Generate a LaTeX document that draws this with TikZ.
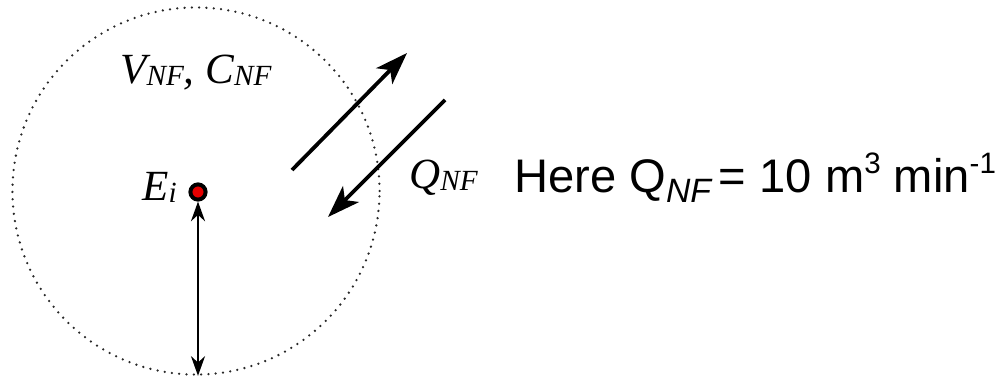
\documentclass[tikz,border=0pt]{standalone}
\usepackage{fontspec}
\setmainfont{Liberation Serif}
\newfontfamily\arialfont{Liberation Sans}
\usetikzlibrary{positioning,arrows.meta}
\definecolor{dotred}{RGB}{230,0,0}
\definecolor{rimgrey}{RGB}{40,40,40}
\newcommand{\serifsub}[1]{\raisebox{-1.5pt}{\fontsize{20.8}{22}\selectfont #1}}
\newcommand{\sanssub}[1]{\raisebox{-7.8pt}{\fontsize{24}{25}\selectfont\itshape #1}}
\newcommand{\sanssup}[1]{\raisebox{13pt}{\fontsize{21}{22}\selectfont #1}}

\begin{document}
\begin{tikzpicture}[x=0.025cm,y=-0.025cm,
  nearfield/.style={circle,draw=rimgrey,line width=1.8pt,dash pattern=on 0pt off 5.2pt,line cap=round,minimum size=9.175cm,inner sep=0pt},
  source/.style={circle,draw=black,fill=dotred,line width=2.8pt,minimum size=0.38cm,inner sep=0pt},
  flow/.style={line width=2.7pt,-{Stealth[length=23pt,width=16pt,inset=6pt]}},
  lbl/.style={font=\fontsize{30.6}{32}\selectfont\itshape,inner sep=0pt,anchor=base west}]
  \useasboundingbox (0,0) rectangle (1005,376);
  \node[nearfield] (nf) at (196,191) {};
  \node[source] (src) at (198,192) {};
  \draw[line width=1.4pt,{Stealth[length=14pt,width=10pt]}-{Stealth[length=14pt,width=10pt]}] (src) -- (src |- nf.south);
  \coordinate (outA) at (292,170);
  \coordinate (outB) at (407,53);
  \coordinate (inA) at (445,100);
  \coordinate (inB) at (328,217);
  \foreach \a/\b in {outA/outB,inA/inB}
    \draw[flow] (\a) -- (\b);
  \node[lbl] (vc) at (120,83) {V\serifsub{NF}, C\serifsub{NF}};
  \node[lbl] (ei) at (142,200) {E\serifsub{i}};
  \node[lbl] (q) at (409,188) {Q\serifsub{NF}};
  \node[font=\arialfont\fontsize{33.5}{35}\selectfont,inner sep=0pt,anchor=base west] (note) at (514,192) {Here Q\sanssub{NF}\,= 10 m\sanssup{3} min\sanssup{-1}};
\end{tikzpicture}
\end{document}
